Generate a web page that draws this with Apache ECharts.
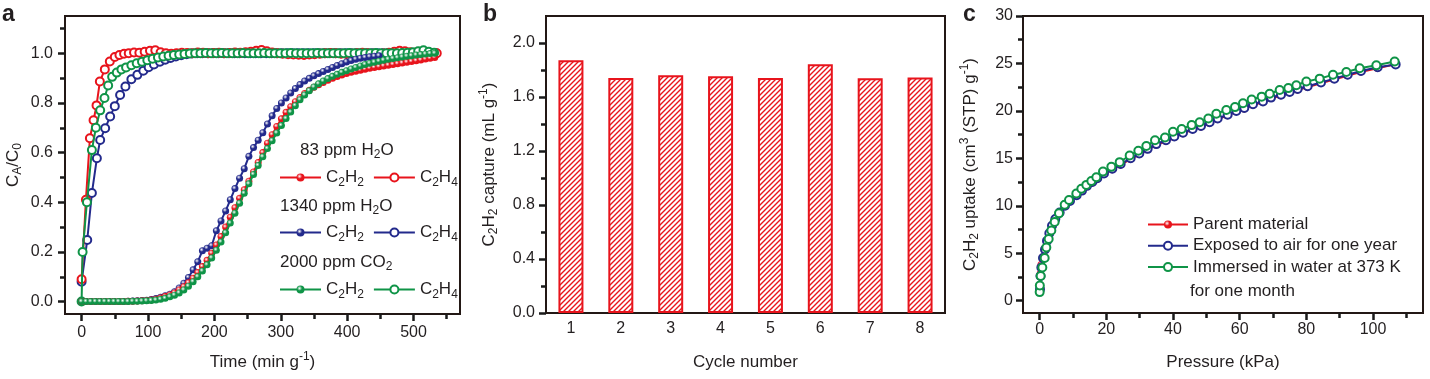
<!DOCTYPE html>
<html><head><meta charset="utf-8">
<script src="https://cdn.jsdelivr.net/npm/echarts@6/dist/echarts.min.js"></script>
<style>html,body{margin:0;padding:0;background:#fff}#c{width:1430px;height:379px}</style>
</head><body><div id="c"></div><script>
// ---------- Panel a : breakthrough curves ----------
const timeC2H2 = [0,7,14,21,28,35,42,49,56,63,70,77,84,91,98,105,112,119,126,133,140,147,154,161,168,175,182,189,196,203,210,217,224,231,238,245,252,259,266,273,280,287,294,301,308,315,322,329,336,343,350,357,364,371,378,385,392,399,406,413,420,427,434,441,448,455,462,469,476,483,490,497,504,511,518,525,532];
const redC2H2 = [0,0,0,0,0,0,0,0,0,0,
 0.001,0.001,0.002,0.003,0.004,0.006,0.009,0.014,0.020,0.027,
 0.035,0.047,0.060,0.076,0.094,0.117,0.141,0.166,0.195,0.228,
 0.262,0.300,0.340,0.378,0.416,0.450,0.485,0.522,0.560,0.600,
 0.638,0.672,0.705,0.736,0.762,0.785,0.805,0.822,0.838,0.851,
 0.863,0.873,0.882,0.891,0.899,0.906,0.912,0.918,0.923,0.928,
 0.932,0.936,0.940,0.943,0.946,0.949,0.952,0.955,0.958,0.961,
 0.964,0.967,0.970,0.973,0.977,0.980,0.983];
const greenC2H2 = [0,0,0,0,0,0,0,0,0,0,
 0.000,0.001,0.001,0.002,0.003,0.004,0.006,0.009,0.013,0.019,
 0.026,0.035,0.047,0.062,0.080,0.100,0.123,0.148,0.176,0.207,
 0.240,0.277,0.316,0.356,0.396,0.436,0.474,0.512,0.548,0.583,
 0.616,0.648,0.679,0.709,0.737,0.763,0.789,0.813,0.832,0.849,
 0.864,0.877,0.888,0.898,0.907,0.915,0.923,0.930,0.937,0.943,
 0.949,0.955,0.960,0.964,0.968,0.972,0.976,0.979,0.982,0.985,
 0.988,0.990,0.993,0.995,0.997,0.999,1.000];
const blueC2H2 = [0,0,0,0,0,0,0,0,0,0,
 0.001,0.002,0.003,0.004,0.005,0.008,0.012,0.017,0.023,0.030,
 0.040,0.055,0.074,0.097,0.128,0.160,0.205,0.215,0.225,0.285,
 0.325,0.365,0.410,0.455,0.497,0.535,0.585,0.620,0.650,0.680,
 0.715,0.748,0.778,0.800,0.820,0.840,0.858,0.874,0.888,0.899,
 0.909,0.918,0.927,0.935,0.943,0.951,0.958,0.965,0.971,0.976,
 0.980,0.983,0.986,0.988,0.990];
const timeRedC2H4 = [0,6.5,12.5,18,22.5,27.5,35,42.5,50,57,64,
 71,79,87,95,103,111,119,127,135,143,
 151,159,167,175,183,191,199,207,215,223,
 231,239,247,255,263,271,279,287,295,303,
 311,319,327,335,343,351,359,367,375,383,
 391,399,407,415,423,431,439,447,455,463,
 471,479,487,495,503,511,519,527,535];
const redC2H4 = [0.09,0.41,0.658,0.73,0.79,0.886,0.935,0.967,0.985,0.993,0.998,
 1.000,1.003,1.002,1.006,1.010,1.012,1.004,1.000,0.998,1.000,
 1.002,1.001,1.000,1.003,1.002,1.000,1.001,1.002,1.000,1.001,
 1.003,1.002,1.004,1.006,1.010,1.013,1.008,1.003,1.000,0.998,
 0.996,0.995,0.994,0.993,0.995,0.996,0.998,1.000,1.001,1.000,
 0.998,0.997,0.998,1.000,1.002,1.000,0.998,0.997,0.999,1.002,
 1.006,1.010,1.008,1.004,1.002,1.000,1.001,1.000,1.000];
const timeGreenC2H4 = [0,1.5,8,15.5,21.5,28,34.5,40,46,53,
 60,67,75,83,91,99,107,115,123,131,
 139,147,155,163,171,179,187,195,203,211,
 219,227,235,243,251,259,267,275,283,291,
 299,307,315,323,331,339,347,355,363,371,
 379,387,395,403,411,419,427,435,443,451,
 459,467,475,483,491,499,507,515,523,531];
const greenC2H4 = [0,0.20,0.40,0.61,0.70,0.77,0.82,0.87,0.905,0.922,
 0.935,0.943,0.952,0.960,0.966,0.972,0.978,0.983,0.987,0.990,
 0.993,0.995,0.997,0.999,1.000,1.000,1.001,1.000,1.000,1.001,
 1.000,1.000,1.000,1.001,1.000,1.000,1.000,1.001,1.000,1.000,
 1.000,1.000,1.001,1.000,1.000,1.000,1.000,1.001,1.000,1.000,
 1.000,1.000,1.000,1.001,1.000,1.000,1.000,1.000,1.001,1.000,
 1.000,1.000,1.000,1.001,1.002,1.004,1.008,1.012,1.006,1.002];
const timeBlueC2H4 = [0,8.5,15.5,23,28,35.5,43,50,58,66,
 75,84,93,101,109,118,126,134,142,150,
 158,166,174,182,190,198,206,214,222,230,
 238,246,254,262,270,278,286,294,302,310,
 318,326,334,342,350,358,366,374,382,390,
 398,406,414,422,430,438,446,454,462,470,
 478,486,494,502,510,518,526,534];
const blueC2H4 = [0.08,0.248,0.437,0.577,0.651,0.698,0.745,0.787,0.832,0.866,
 0.895,0.913,0.930,0.944,0.955,0.966,0.974,0.981,0.987,0.992,
 0.996,0.999,1.000,1.000,1.000,1.000,1.000,1.000,1.000,1.000,
 1.000,1.000,1.000,1.000,1.000,1.000,1.000,1.000,1.000,1.000,
 1.000,1.000,1.000,1.000,1.000,1.000,1.000,1.000,1.000,1.000,
 1.000,1.000,1.000,1.000,1.000,1.000,1.000,1.000,1.000,1.000,
 1.000,1.000,1.000,1.000,1.000,1.000,1.000,1.000];
const aXTicks = [0,100,200,300,400,500];
const aXMinor = [50,150,250,350,450,550];
const aYTicks = [0,0.2,0.4,0.6,0.8,1.0];
const aYMinor = [0.1,0.3,0.5,0.7,0.9,1.1];

// ---------- Panel b : cycles ----------
const cycles = ['1','2','3','4','5','6','7','8'];
const capture = [1.872,1.741,1.761,1.754,1.741,1.843,1.739,1.744];
const bYTicks = [0,0.4,0.8,1.2,1.6,2.0];
const bYMinor = [0.2,0.6,1.0,1.4,1.8];

// ---------- Panel c : isotherms ----------
const pParent = [0.05,0.2,0.4,0.9,1.5,2.1,2.8,3.6,4.6,5.9,7.5,9.0,11.0,12.6,14.1,15.7,17.2,19.2,21.7,24.2,27.2,29.8,32.3,34.9,37.8,40.3,42.9,45.8,48.3,50.9,53.3,56.3,58.9,61.3,63.9,66.9,69.3,72.3,74.9,77.3,80.3,84.3,88.3,92.3,96.3,101.3,106.7];
const uParent = [1.5,2.9,3.8,4.6,5.5,6.3,7.1,7.9,8.6,9.3,10.0,10.5,11.1,11.6,12.0,12.4,12.8,13.3,13.8,14.3,14.9,15.4,15.9,16.4,16.8,17.2,17.6,18.0,18.3,18.7,19.1,19.5,19.9,20.2,20.6,20.9,21.3,21.6,21.9,22.2,22.5,22.9,23.3,23.7,24.1,24.5,24.9];
const pAir = [0.1,0.25,0.5,1.0,1.6,2.2,2.9,3.7,4.7,6.0,7.6,9.1,11.1,12.7,14.2,15.8,17.3,19.3,21.8,24.3,27.3,29.9,32.4,35.0,37.9,40.4,43.0,45.9,48.4,51.0,53.4,56.4,59.0,61.4,64.0,67.0,69.4,72.4,75.0,77.4,80.4,84.4,88.4,92.4,96.4,101.4,106.8];
const uAir = [1.2,2.6,3.5,4.5,5.4,6.3,7.1,7.9,8.6,9.3,10.0,10.5,11.1,11.6,12.1,12.5,12.9,13.4,13.9,14.4,15.0,15.5,16.0,16.5,16.9,17.3,17.7,18.1,18.4,18.8,19.2,19.6,20.0,20.3,20.7,21.0,21.4,21.7,22.0,22.3,22.6,23.0,23.4,23.8,24.2,24.6,24.9];
const pWater = [0.0,0.05,0.3,0.8,1.5,2.0,2.7,3.5,4.5,5.8,7.5,8.8,11.0,12.5,14.0,15.5,17.0,19.0,21.5,24.0,27.0,29.6,32.0,34.6,37.6,40.0,42.6,45.6,48.0,50.6,53.0,56.0,58.6,61.0,63.6,66.6,69.0,72.0,74.6,77.0,80.0,84.0,88.0,92.0,96.0,101.0,106.5];
const uWater = [0.9,1.6,2.6,3.5,4.5,5.6,6.5,7.4,8.3,9.2,10.1,10.6,11.3,11.8,12.2,12.6,13.0,13.6,14.1,14.6,15.3,15.8,16.3,16.9,17.2,17.8,18.1,18.5,18.8,19.2,19.7,20.1,20.4,20.8,21.2,21.5,21.8,22.2,22.4,22.7,23.1,23.4,23.8,24.1,24.5,24.8,25.2];
const cXTicks = [0,20,40,60,80,100];
const cXMinor = [10,30,50,70,90,110];
const cYTicks = [0,5,10,15,20,25,30];
const cYMinor = [2.5,7.5,12.5,17.5,22.5,27.5];

// ---------- styling ----------
const FF = '"Liberation Sans", Arial, Helvetica, sans-serif';
const TXT = '#231f20';
const AX = '#231815';
const TICK = '#1a1a1a';
const RED = '#e8141c', BLUE = '#232a8c', GREEN = '#0f9447';
function rich(fs){
  return {
    n:{fontSize:fs,fontFamily:FF,color:TXT,lineHeight:22},
    sub:{fontSize:12,fontFamily:FF,color:TXT,verticalAlign:'bottom',lineHeight:15},
    sup:{fontSize:12,fontFamily:FF,color:TXT,verticalAlign:'top',lineHeight:13}
  };
}
function ball(c){
  return {type:'radial',x:0.38,y:0.35,r:0.7,colorStops:[{offset:0,color:'#ffffff'},{offset:0.45,color:c},{offset:1,color:c}]};
}
function hatch(color){
  const s=5, cv=document.createElement('canvas'); cv.width=s; cv.height=s;
  const g=cv.getContext('2d'); g.fillStyle='#fff'; g.fillRect(0,0,s,s);
  g.strokeStyle=color; g.lineWidth=1.4; g.beginPath();
  g.moveTo(-1,s+1); g.lineTo(s+1,-1);
  g.moveTo(-1,1); g.lineTo(1,-1);
  g.moveTo(s-1,s+1); g.lineTo(s+1,s-1);
  g.stroke();
  return cv;
}
function pairs(xs,ys){ return ys.map((y,i)=>[xs[i],y]); }

// major axis: line + labels + major ticks (same style as the working test)
function majorAxis(o){
  return {
    type:'value', position:o.pos, gridIndex:o.grid, min:o.min, max:o.max,
    axisLine:{show:true,onZero:false,lineStyle:{color:AX,width:2}},
    splitLine:{show:false},
    axisTick:{show:true,length:7,customValues:o.ticks,lineStyle:{color:TICK,width:2.5}},
    axisLabel:{show:true,customValues:o.ticks,margin:o.margin,fontSize:16,fontFamily:FF,color:TXT,formatter:o.fmt},
    name:o.name, nameLocation:'middle', nameGap:o.gap,
    nameTextStyle:{rich:rich(17)}
  };
}
// minor axis: only short ticks
function minorAxis(o){
  return {
    type:'value', position:o.pos, gridIndex:o.grid, min:o.min, max:o.max,
    axisLine:{show:true,onZero:false,lineStyle:{color:AX,width:2}},
    splitLine:{show:false},
    axisLabel:{show:false,customValues:o.ticks},
    axisTick:{show:true,length:5,customValues:o.ticks,lineStyle:{color:TICK,width:2.5}}
  };
}
const f1 = v => v.toFixed(1);
const f0 = v => String(Math.round(v));

function filled(name,c,xs,ys,xi,yi,z){
  return {type:'line',name,xAxisIndex:xi,yAxisIndex:yi,data:pairs(xs,ys),symbol:'circle',symbolSize:7,
    itemStyle:{color:ball(c),borderWidth:0},lineStyle:{color:c,width:2},z:z,animation:false};
}
function hollow(name,c,xs,ys,xi,yi,z,sz){
  return {type:'line',name,xAxisIndex:xi,yAxisIndex:yi,data:pairs(xs,ys),symbol:'emptyCircle',symbolSize:sz||8,
    itemStyle:{color:c,borderWidth:1},lineStyle:{color:c,width:2},z:z,animation:false};
}

const legendFmt = name => name.indexOf('C2H2')===0 ? '{n|C}{sub|2}{n|H}{sub|2}' : '{n|C}{sub|2}{n|H}{sub|4}';
function aLegend(top,names){
  return {left:279,top:top,orient:'horizontal',itemWidth:41,itemHeight:10,itemGap:9,padding:0,
    selectedMode:false,data:names,formatter:legendFmt,textStyle:{rich:rich(17)}};
}
function gText(x,y,text){
  return {type:'text',x:x,y:y,silent:true,style:{text:text,rich:rich(17),fill:TXT,font:'17px '+FF,verticalAlign:'middle',textVerticalAlign:'middle'}};
}
function panelLabel(x,t){
  return {type:'text',x:x,y:14.5,silent:true,style:{text:t,fill:TXT,font:'bold 23px '+FF,verticalAlign:'middle',textVerticalAlign:'middle'}};
}

const option = {
  animation:false,
  grid:[
    {left:65,top:16,width:395,height:298,show:true,borderColor:AX,borderWidth:2},
    {left:546,top:16,width:399,height:297,show:true,borderColor:AX,borderWidth:2},
    {left:1023,top:16,width:400,height:297,show:true,borderColor:AX,borderWidth:2}
  ],
  xAxis:[
    majorAxis({pos:'bottom',grid:0,min:-25,max:570,ticks:aXTicks,margin:11,fmt:f0,name:'{n|Time (min g}{sup|-1}{n|)}',gap:37}),
    minorAxis({pos:'bottom',grid:0,min:-25,max:570,ticks:aXMinor}),
    {type:'category',position:'bottom',gridIndex:1,data:cycles,boundaryGap:true,
      axisLine:{show:true,onZero:false,lineStyle:{color:AX,width:2}},axisTick:{show:false},splitLine:{show:false},
      axisLabel:{margin:8,fontSize:16,fontFamily:FF,color:TXT},
      name:'{n|Cycle number}',nameLocation:'middle',nameGap:38,nameTextStyle:{rich:rich(17)}},
    majorAxis({pos:'bottom',grid:2,min:-5,max:115,ticks:cXTicks,margin:9,fmt:f0,name:'{n|Pressure (kPa)}',gap:38}),
    minorAxis({pos:'bottom',grid:2,min:-5,max:115,ticks:cXMinor})
  ],
  yAxis:[
    majorAxis({pos:'left',grid:0,min:-0.05,max:1.15,ticks:aYTicks,margin:12,fmt:f1,name:'{n|C}{sub|A}{n|/C}{sub|0}',gap:41}),
    minorAxis({pos:'left',grid:0,min:-0.05,max:1.15,ticks:aYMinor}),
    majorAxis({pos:'left',grid:1,min:0,max:2.2,ticks:bYTicks,margin:11,fmt:f1,name:'{n|C}{sub|2}{n|H}{sub|2}{n| capture (mL g}{sup|-1}{n|)}',gap:46}),
    minorAxis({pos:'left',grid:1,min:0,max:2.2,ticks:bYMinor}),
    majorAxis({pos:'left',grid:2,min:-1.3,max:30,ticks:cYTicks,margin:10,fmt:f0,name:'{n|C}{sub|2}{n|H}{sub|2}{n| uptake (cm}{sup|3}{n| (STP) g}{sup|-1}{n|)}',gap:42}),
    minorAxis({pos:'left',grid:2,min:-1.3,max:30,ticks:cYMinor})
  ],
  legend:[
    aLegend(169,['C2H2 83 ppm H2O','C2H4 83 ppm H2O']),
    aLegend(224,['C2H2 1340 ppm H2O','C2H4 1340 ppm H2O']),
    aLegend(281,['C2H2 2000 ppm CO2','C2H4 2000 ppm CO2']),
    {left:1147,top:216,orient:'vertical',itemWidth:40,itemHeight:10,itemGap:4.3,padding:0,selectedMode:false,
     data:['Parent material','Exposed to air for one year','Immersed in water at 373 K'],
     formatter:n=>'{n|'+n+'}',textStyle:{rich:rich(17)}}
  ],
  graphic:[
    panelLabel(2,'a'), panelLabel(483,'b'), panelLabel(963,'c'),
    gText(300,150,'{n|83 ppm H}{sub|2}{n|O}'),
    gText(280,206,'{n|1340 ppm H}{sub|2}{n|O}'),
    gText(280,262,'{n|2000 ppm CO}{sub|2}'),
    gText(1190,291,'{n|for one month}')
  ],
  series:[
    hollow('C2H4 1340 ppm H2O',BLUE,timeBlueC2H4,blueC2H4,0,0,2),
    hollow('C2H4 83 ppm H2O',RED,timeRedC2H4,redC2H4,0,0,3),
    hollow('C2H4 2000 ppm CO2',GREEN,timeGreenC2H4,greenC2H4,0,0,4),
    filled('C2H2 1340 ppm H2O',BLUE,timeC2H2,blueC2H2,0,0,5),
    filled('C2H2 83 ppm H2O',RED,timeC2H2,redC2H2,0,0,6),
    filled('C2H2 2000 ppm CO2',GREEN,timeC2H2,greenC2H2,0,0,7),
    {type:'bar',name:'capture',xAxisIndex:2,yAxisIndex:2,data:capture,barWidth:25,
      itemStyle:{color:{image:hatch(RED),repeat:'repeat'},borderColor:RED,borderWidth:2},animation:false},
    filled('Parent material',RED,pParent,uParent,3,4,5),
    hollow('Exposed to air for one year',BLUE,pAir,uAir,3,4,6,8),
    hollow('Immersed in water at 373 K',GREEN,pWater,uWater,3,4,7,8)
  ]
};
const chart = echarts.init(document.getElementById('c'));
chart.setOption(option);
</script></body></html>
